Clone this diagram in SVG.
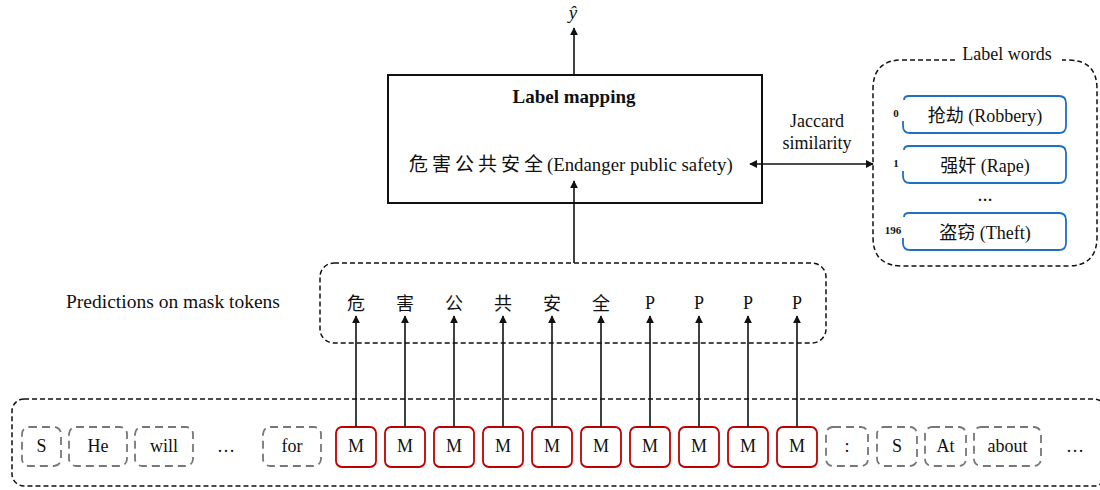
<svg xmlns="http://www.w3.org/2000/svg" width="1100" height="490" viewBox="0 0 1100 490">
<defs>
<style>
.t{font-family:"Liberation Serif","Noto Sans CJK SC",serif;font-size:18px;fill:#111;text-anchor:middle}
.cj{font-family:"Noto Sans CJK SC",sans-serif;font-size:18px;fill:#111;text-anchor:middle}
.dash{fill:none;stroke:#111;stroke-width:1.5;stroke-dasharray:5 3}
.gbox{fill:none;stroke:#777;stroke-width:1.8;stroke-dasharray:8 5}
.mbox{fill:#fff;stroke:#c00000;stroke-width:1.8}
.blue{fill:none;stroke:#1f6fc5;stroke-width:1.8}
.ln{stroke:#111;stroke-width:1.6;fill:none}
</style>
<marker id="ah" viewBox="0 0 10 10" refX="9" refY="5" markerWidth="8" markerHeight="8" orient="auto-start-reverse" markerUnits="userSpaceOnUse">
<path d="M0,0 L10,5 L0,10 z" fill="#111"/>
</marker>
</defs>

<g id="input-container">
<rect class="dash" x="12" y="399" width="1094" height="87" rx="12"/>
</g>

<g id="tokens">
<g id="tok-S1"><rect class="gbox" x="22" y="427" width="39" height="39" rx="7"/><text class="t" x="41.5" y="452">S</text></g>
<g id="tok-He"><rect class="gbox" x="69" y="427" width="58" height="39" rx="7"/><text class="t" x="98" y="452">He</text></g>
<g id="tok-will"><rect class="gbox" x="135" y="427" width="58" height="39" rx="7"/><text class="t" x="164" y="452">will</text></g>
<text class="t" x="226" y="452">…</text>
<g id="tok-for"><rect class="gbox" x="263" y="427" width="58" height="39" rx="7"/><text class="t" x="292" y="452">for</text></g>
<g id="tok-M1"><rect class="mbox" x="336" y="427" width="40" height="40" rx="6"/><text class="t" x="356" y="452">M</text></g>
<g id="tok-M2"><rect class="mbox" x="385" y="427" width="40" height="40" rx="6"/><text class="t" x="405" y="452">M</text></g>
<g id="tok-M3"><rect class="mbox" x="434" y="427" width="40" height="40" rx="6"/><text class="t" x="454" y="452">M</text></g>
<g id="tok-M4"><rect class="mbox" x="483" y="427" width="40" height="40" rx="6"/><text class="t" x="503" y="452">M</text></g>
<g id="tok-M5"><rect class="mbox" x="532" y="427" width="40" height="40" rx="6"/><text class="t" x="552" y="452">M</text></g>
<g id="tok-M6"><rect class="mbox" x="581" y="427" width="40" height="40" rx="6"/><text class="t" x="601" y="452">M</text></g>
<g id="tok-M7"><rect class="mbox" x="630" y="427" width="40" height="40" rx="6"/><text class="t" x="650" y="452">M</text></g>
<g id="tok-M8"><rect class="mbox" x="679" y="427" width="40" height="40" rx="6"/><text class="t" x="699" y="452">M</text></g>
<g id="tok-M9"><rect class="mbox" x="728" y="427" width="40" height="40" rx="6"/><text class="t" x="748" y="452">M</text></g>
<g id="tok-M10"><rect class="mbox" x="777" y="427" width="40" height="40" rx="6"/><text class="t" x="797" y="452">M</text></g>
<g id="tok-colon"><rect class="gbox" x="826" y="427" width="42" height="39" rx="7"/><text class="t" x="847" y="452">:</text></g>
<g id="tok-S2"><rect class="gbox" x="877" y="427" width="40" height="39" rx="7"/><text class="t" x="897" y="452">S</text></g>
<g id="tok-At"><rect class="gbox" x="925" y="427" width="41" height="39" rx="7"/><text class="t" x="945.5" y="452">At</text></g>
<g id="tok-about"><rect class="gbox" x="974" y="427" width="67" height="39" rx="7"/><text class="t" x="1007.5" y="452">about</text></g>
<text class="t" x="1075" y="452">…</text>
</g>

<g id="predictions">
<rect class="dash" x="320" y="263" width="506" height="80" rx="14"/>
<text class="cj" x="356" y="310">危</text>
<text class="cj" x="405" y="310">害</text>
<text class="cj" x="454" y="310">公</text>
<text class="cj" x="503" y="310">共</text>
<text class="cj" x="552" y="310">安</text>
<text class="cj" x="601" y="310">全</text>
<text class="t" x="650" y="309">P</text>
<text class="t" x="699" y="309">P</text>
<text class="t" x="748" y="309">P</text>
<text class="t" x="797" y="309">P</text>
</g>
<text x="173" y="308" style="font-family:'Liberation Serif',serif;font-size:19.5px;fill:#111" text-anchor="middle">Predictions on mask tokens</text>

<g id="label-mapping">
<rect x="388" y="75" width="374" height="128" fill="#fff" stroke="#111" stroke-width="2"/>
<text class="t" x="574" y="103" style="font-weight:bold;font-size:19px">Label mapping</text>
<text x="409" y="171" style="font-family:'Noto Sans CJK SC',sans-serif;font-size:19px;letter-spacing:4px;fill:#111">危害公共安全</text>
<text x="547" y="171" style="font-family:'Liberation Serif',serif;font-size:18.8px;fill:#111">(Endanger public safety)</text>
</g>

<text x="573" y="19" style="font-family:'Liberation Serif',serif;font-size:19px;font-style:italic;fill:#111" text-anchor="middle">ŷ</text>

<g id="label-words">
<path class="dash" d="M955,60 L902,60 Q873,60 873,89 L873,237 Q873,266 902,266 L1068,266 Q1097,266 1097,237 L1097,89 Q1097,60 1068,60 L1062,60"/>
<text class="t" x="1007" y="60">Label words</text>
<g id="lw-0">
<path class="blue" d="M904,100 Q904,96 909,96 L1059,96 Q1066,96 1066,103 L1066,126 Q1066,133 1059,133 L910,133 Q903,133 903,126 L903,121"/>
<text x="896" y="117" style="font-family:'Liberation Serif',serif;font-size:11px;font-weight:bold;fill:#111" text-anchor="middle">0</text>
<text class="t" x="985" y="122">抢劫 (Robbery)</text>
</g>
<g id="lw-1">
<path class="blue" d="M904,150 Q904,146 909,146 L1059,146 Q1066,146 1066,153 L1066,176 Q1066,183 1059,183 L910,183 Q903,183 903,176 L903,171"/>
<text x="896" y="167" style="font-family:'Liberation Serif',serif;font-size:11px;font-weight:bold;fill:#111" text-anchor="middle">1</text>
<text class="t" x="985" y="172">强奸 (Rape)</text>
</g>
<text x="985" y="201" style="font-family:'Liberation Serif',serif;font-size:15px;font-weight:bold;fill:#111" text-anchor="middle">…</text>
<g id="lw-196">
<path class="blue" d="M904,217 Q904,213 909,213 L1059,213 Q1066,213 1066,220 L1066,243 Q1066,250 1059,250 L910,250 Q903,250 903,243 L903,238"/>
<text x="893" y="234" style="font-family:'Liberation Serif',serif;font-size:11px;font-weight:bold;fill:#111" text-anchor="middle">196</text>
<text class="t" x="985" y="239">盗窃 (Theft)</text>
</g>
</g>

<text class="t" x="817" y="127">Jaccard</text>
<text class="t" x="817" y="149">similarity</text>

<g id="connectors">
<line class="ln" x1="574" y1="75" x2="574" y2="28" marker-end="url(#ah)"/>
<line class="ln" x1="574" y1="263" x2="574" y2="181" marker-end="url(#ah)"/>
<line class="ln" x1="750" y1="164" x2="873" y2="164" marker-start="url(#ah)" marker-end="url(#ah)"/>
<line class="ln" x1="356" y1="427" x2="356" y2="316" marker-end="url(#ah)"/>
<line class="ln" x1="405" y1="427" x2="405" y2="316" marker-end="url(#ah)"/>
<line class="ln" x1="454" y1="427" x2="454" y2="316" marker-end="url(#ah)"/>
<line class="ln" x1="503" y1="427" x2="503" y2="316" marker-end="url(#ah)"/>
<line class="ln" x1="552" y1="427" x2="552" y2="316" marker-end="url(#ah)"/>
<line class="ln" x1="601" y1="427" x2="601" y2="316" marker-end="url(#ah)"/>
<line class="ln" x1="650" y1="427" x2="650" y2="316" marker-end="url(#ah)"/>
<line class="ln" x1="699" y1="427" x2="699" y2="316" marker-end="url(#ah)"/>
<line class="ln" x1="748" y1="427" x2="748" y2="316" marker-end="url(#ah)"/>
<line class="ln" x1="797" y1="427" x2="797" y2="316" marker-end="url(#ah)"/>
</g>
</svg>
